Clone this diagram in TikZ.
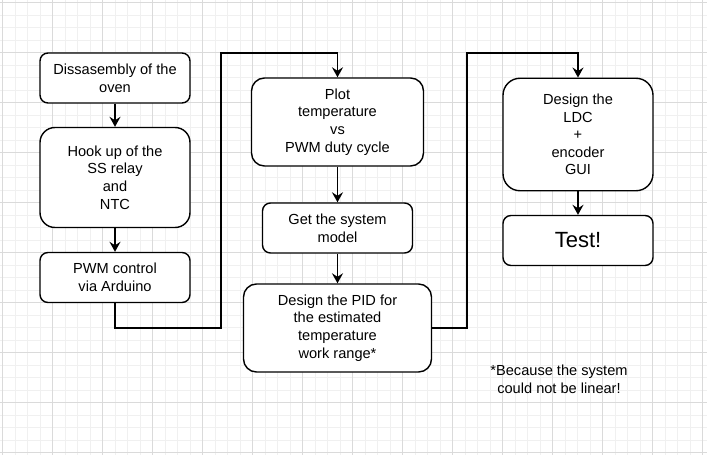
\documentclass[tikz,border=0pt]{standalone}
\usepackage{fontspec}
\setmainfont{Liberation Sans}
\usetikzlibrary{arrows.meta}
\definecolor{minorg}{HTML}{F0F0F0}
\definecolor{majorg}{HTML}{DADADA}
\tikzset{
  minorgrid/.style={draw=minorg, line width=1pt},
  majorgrid/.style={draw=majorg, line width=1pt},
  box/.style={draw=black, fill=white, line width=1.4pt, align=center, inner sep=0pt,
    font=\fontsize{14.6}{17.6}\selectfont},
  conn/.style={draw=black, line width=1.4pt},
  arr/.style={conn, -{Stealth[length=10pt,width=11pt,inset=3.5pt]}},
  note/.style={align=center, inner sep=0pt, font=\fontsize{14.6}{18}\selectfont}
}
\begin{document}
\begin{tikzpicture}[x=1pt,y=-1pt]
\useasboundingbox (0,0) rectangle (707,455);
\fill[white] (0,0) rectangle (707,455);
\foreach \i in {0,...,56} { \draw[minorgrid] ({2.5+12.5*\i},0) -- ({2.5+12.5*\i},455); }
\foreach \i in {0,...,36} { \draw[minorgrid] (0,{2.5+12.5*\i}) -- (707,{2.5+12.5*\i}); }
\foreach \i in {0,...,14} { \draw[majorgrid] ({2.5+50*\i},0) -- ({2.5+50*\i},455); }
\foreach \i in {0,...,9} { \draw[majorgrid] (0,{2.5+50*\i}) -- (707,{2.5+50*\i}); }

\node[box, minimum width=150pt, minimum height=50pt, rounded corners=8pt] (b1) at (115,78) {Dissasembly of the\\oven};
\node[box, minimum width=150pt, minimum height=100pt, rounded corners=15pt] (b2) at (115,177.5) {Hook up of the\\SS relay\\and\\NTC};
\node[box, minimum width=150pt, minimum height=50pt, rounded corners=8pt] (b3) at (115,277.5) {PWM control\\via Arduino};
\node[box, minimum width=172pt, minimum height=88pt, rounded corners=13pt] (plot) at (337.5,122) {Plot\\temperature\\vs\\PWM duty cycle};
\node[box, minimum width=150pt, minimum height=50pt, rounded corners=8pt] (model) at (337.5,228) {Get the system\\model};
\node[box, minimum width=188pt, minimum height=88pt, rounded corners=13pt] (pid) at (337.5,328) {Design the PID for\\the estimated\\temperature\\work range*};
\node[box, minimum width=150pt, minimum height=112.5pt, rounded corners=17pt] (ldc) at (578,134.5) {Design the\\LDC\\+\\encoder\\GUI};
\node[box, minimum width=150pt, minimum height=50pt, rounded corners=8pt, font=\fontsize{22}{26}\selectfont] (test) at (578,240.5) {Test!};
\node[note] (fn) at (559,379) {*Because the system\\could not be linear!};

\coordinate (j1) at (221,328);
\coordinate (j2) at (221,53);
\coordinate (k1) at (467,328);
\coordinate (k2) at (467,53);

\draw[arr] (b1) -- (b2);
\draw[arr] (b2) -- (b3);
\draw[arr] (b3.south) |- (j1) -- (j2) -| (plot.north);
\draw[arr] (plot) -- (model);
\draw[arr] (model) -- (pid);
\draw[arr] (pid.east) -- (k1) -- (k2) -| (ldc.north);
\draw[arr] (ldc) -- (test);
\end{tikzpicture}
\end{document}
